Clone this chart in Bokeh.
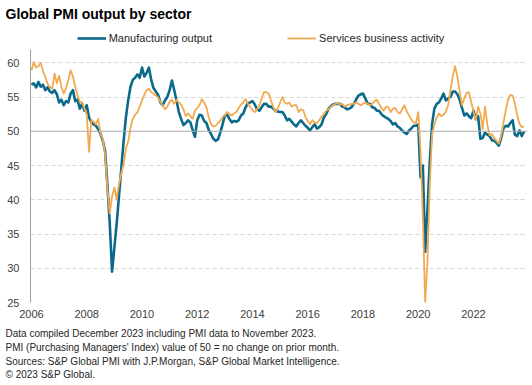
import pandas as pd
from bokeh.plotting import figure
from bokeh.models import Range1d, FixedTicker, Span, Legend, LegendItem, Title
from bokeh.embed import file_html
from bokeh.resources import INLINE

# ---------------- data (monthly, Jan 2006 - Nov 2023) ----------------
manufacturing_output = [
    56.8, 57.0, 56.4, 57.2, 56.5, 56.8, 56.0, 56.4, 55.8, 55.6, 56.0, 55.4,  # 2006
    54.2, 54.6, 53.8, 54.4, 54.2, 55.5, 56.0, 54.4, 54.6, 53.3, 54.0, 53.0,  # 2007
    53.8, 52.0, 51.3, 51.0, 50.8, 50.3, 49.6, 48.6, 47.0, 42.0, 36.5, 29.5,  # 2008
    33.0, 36.5, 40.5, 44.5, 48.5, 52.0, 54.5, 56.5, 57.5, 57.8, 58.3, 57.8,  # 2009
    59.3, 58.0, 58.5, 59.3, 57.5, 56.3, 55.8, 55.3, 54.2, 53.8, 54.5, 55.0,  # 2010
    56.0, 57.4, 56.0, 54.5, 52.8, 51.8, 50.9, 51.2, 51.6, 51.3, 50.2, 49.2,  # 2011
    51.6, 52.4, 52.3, 51.5, 51.2, 50.2, 49.6, 48.9, 48.6, 48.8, 49.8, 51.0,  # 2012
    52.3, 52.4, 51.8, 51.3, 51.5, 51.4, 51.6, 52.3, 52.6, 53.5, 54.1, 54.2,  # 2013
    54.4, 53.9, 53.2, 53.0, 53.5, 54.0, 54.0, 53.6, 53.6, 53.3, 53.0, 52.9,  # 2014
    52.8, 52.8, 52.3, 51.6, 51.8, 51.4, 51.0, 50.7, 51.2, 51.6, 51.2, 50.8,  # 2015
    50.5, 50.1, 50.6, 51.0, 50.4, 50.6, 51.0, 52.0, 52.5, 53.3, 53.6, 53.9,  # 2016
    54.0, 54.0, 54.0, 53.6, 53.5, 53.2, 53.3, 53.5, 54.0, 54.6, 55.2, 55.4,  # 2017
    55.5, 54.8, 54.0, 54.0, 53.5, 53.4, 53.0, 53.0, 52.5, 52.2, 52.0, 51.8,  # 2018
    51.5, 51.0, 51.2, 50.7, 50.5, 50.1, 49.8, 49.6, 50.1, 50.4, 50.8, 50.8,  # 2019
    51.0, 43.3, 45.0, 32.4, 38.5, 45.5, 51.0, 53.3, 54.0, 54.2, 54.8, 55.5,  # 2020
    54.5, 54.8, 55.0, 55.8, 55.8, 55.4, 54.6, 53.4, 52.3, 52.6, 52.2, 51.9,  # 2021
    53.0, 51.8, 52.2, 48.9, 49.0, 49.8, 49.5, 49.3, 48.7, 48.6, 48.3, 47.9,  # 2022
    49.0, 50.4, 50.8, 50.7, 51.2, 51.6, 49.5, 49.3, 50.1, 49.3, 50.0,        # 2023
]

services_business_activity = [
    58.9, 60.1, 59.3, 59.5, 60.0, 58.8, 57.9, 56.9, 56.5, 56.2, 58.4, 57.0,  # 2006
    58.1, 56.5, 55.5, 56.3, 57.5, 58.9, 58.0, 56.5, 55.2, 54.3, 54.2, 53.3,  # 2007
    52.5, 47.0, 51.7, 51.4, 51.0, 51.8, 49.6, 48.8, 46.5, 41.5, 38.0, 40.5,  # 2008
    41.8, 40.0, 42.3, 43.8, 45.2, 47.5, 48.5, 50.5, 51.8, 52.4, 52.8, 53.6,  # 2009
    54.5, 55.3, 56.0, 56.2, 55.7, 55.5, 55.2, 54.9, 54.3, 53.8, 53.2, 53.6,  # 2010
    54.3, 54.6, 54.0, 54.6, 54.2, 53.9, 53.2, 52.2, 52.6, 52.2, 51.8, 53.0,  # 2011
    53.4, 53.8, 54.7, 54.2, 53.5, 52.0, 51.0, 50.7, 50.8, 51.2, 51.5, 52.1,  # 2012
    52.3, 52.8, 52.5, 52.3, 52.6, 52.8, 53.4, 53.9, 54.2, 54.7, 54.0, 53.5,  # 2013
    53.1, 52.8, 53.2, 53.8, 54.8, 55.7, 55.7, 55.5, 54.5, 53.6, 52.8, 53.3,  # 2014
    54.2, 55.0, 54.2, 54.0, 54.2, 53.6, 53.8, 53.8, 52.8, 53.2, 53.1, 52.1,  # 2015
    51.5, 51.0, 51.6, 51.3, 51.2, 51.6, 52.1, 52.5, 53.0, 53.2, 53.5, 53.8,  # 2016
    54.0, 54.1, 53.9, 54.0, 53.6, 53.8, 53.9, 54.0, 54.0, 54.2, 54.0, 53.8,  # 2017
    54.0, 54.2, 54.0, 53.8, 54.0, 54.4, 54.6, 54.0, 53.4, 53.0, 53.6, 53.5,  # 2018
    52.8, 53.3, 53.4, 52.8, 52.6, 53.2, 53.8, 52.9, 52.3, 51.7, 51.3, 51.2,  # 2019
    52.8, 47.0, 37.5, 25.0, 31.0, 42.0, 49.5, 51.0, 52.0, 52.6, 52.2, 52.4,  # 2020
    52.9, 53.8, 56.0, 58.0, 59.5, 58.0, 55.8, 53.8, 54.8, 55.6, 55.7, 54.3,  # 2021
    52.8, 51.6, 53.6, 52.6, 50.3, 53.6, 51.0, 49.4, 49.6, 49.0, 48.6, 48.2,  # 2022
    49.3, 51.2, 53.0, 54.6, 55.3, 55.2, 54.0, 52.3, 51.1, 50.6, 50.7,        # 2023
]

x_tick_years = [2006, 2008, 2010, 2012, 2014, 2016, 2018, 2020, 2022]
y_ticks = [25, 30, 35, 40, 45, 50, 55, 60]

title_text = "Global PMI output by sector"
series_names = ["Manufacturing output", "Services business activity"]
footnotes = [
    "Data compiled December 2023 including PMI data to November 2023.",
    "PMI (Purchasing Managers' Index) value of 50 = no change on prior month.",
    "Sources: S&P Global PMI with J.P.Morgan, S&P Global Market Intelligence.",
    "\u00a9 2023 S&P Global.",
]

months = pd.date_range("2006-01-01", "2023-11-01", freq="MS")
x = [d.year + (d.month - 1) / 12.0 for d in months]

# ---------------- figure ----------------
FONT = "Liberation Sans"
p = figure(width=532, height=385, output_backend="svg", toolbar_location=None,
           x_range=Range1d(2005.964, 2023.955), y_range=Range1d(25, 65),
           min_border_left=30, min_border_right=5, min_border_top=28,
           min_border_bottom=83)
p.outline_line_color = None
p.background_fill_color = "white"
p.border_fill_color = "white"

p.title.text = title_text
p.title.text_font = FONT
p.title.text_font_style = "bold"
p.title.text_font_size = "14px"
p.title.text_color = "#000000"
p.title.align = "left"
p.title.vertical_align = "top"
p.title.offset = -25
p.title.standoff = 9.0

p.xgrid.visible = False
p.yaxis.ticker = FixedTicker(ticks=y_ticks)
p.ygrid.grid_line_color = "#d6d6d6"
p.ygrid.grid_line_dash = "4 3"
p.ygrid.grid_line_width = 1

p.xaxis.ticker = FixedTicker(ticks=x_tick_years)
for ax in (p.xaxis, p.yaxis):
    ax.major_tick_in = 0
    ax.major_tick_out = 0
    ax.minor_tick_in = 0
    ax.minor_tick_out = 0
    ax.major_tick_line_color = None
    ax.minor_tick_line_color = None
    ax.major_label_text_font = FONT
    ax.major_label_text_font_size = "11px"
    ax.major_label_text_color = "#404040"
p.xaxis.axis_line_color = None
p.xaxis.major_label_standoff = 7
p.yaxis.axis_line_color = "#a0a0a0"
p.yaxis.bounds = (25, 62)
p.yaxis.major_label_standoff = 11

p.add_layout(Span(location=50, dimension="width", line_color="#b0b0b0", line_width=1))

r_m = p.line(x, manufacturing_output, line_color="#0b6a8b", line_width=2.6,
             line_join="round")
r_s = p.line(x, services_business_activity, line_color="#f2aa50", line_width=1.8,
             line_join="round")

leg = Legend(items=[LegendItem(label=series_names[0], renderers=[r_m]),
                    LegendItem(label=series_names[1], renderers=[r_s])],
             location=(46.7, 257.7), orientation="horizontal",
             glyph_width=29, glyph_height=12, label_height=12,
             label_standoff=3, padding=0, margin=0, spacing=75,
             border_line_color=None, background_fill_alpha=0,
             label_text_font=FONT, label_text_font_size="11px",
             label_text_color="#262626")
p.add_layout(leg)

p.add_layout(Title(text="\n".join(footnotes), align="left", offset=-25, standoff=10.2,
                   text_font=FONT, text_font_size="10px", text_line_height=1.26,
                   text_font_style="normal", text_color="#262626"), "below")

open("out.html", "w").write(file_html(p, INLINE))
